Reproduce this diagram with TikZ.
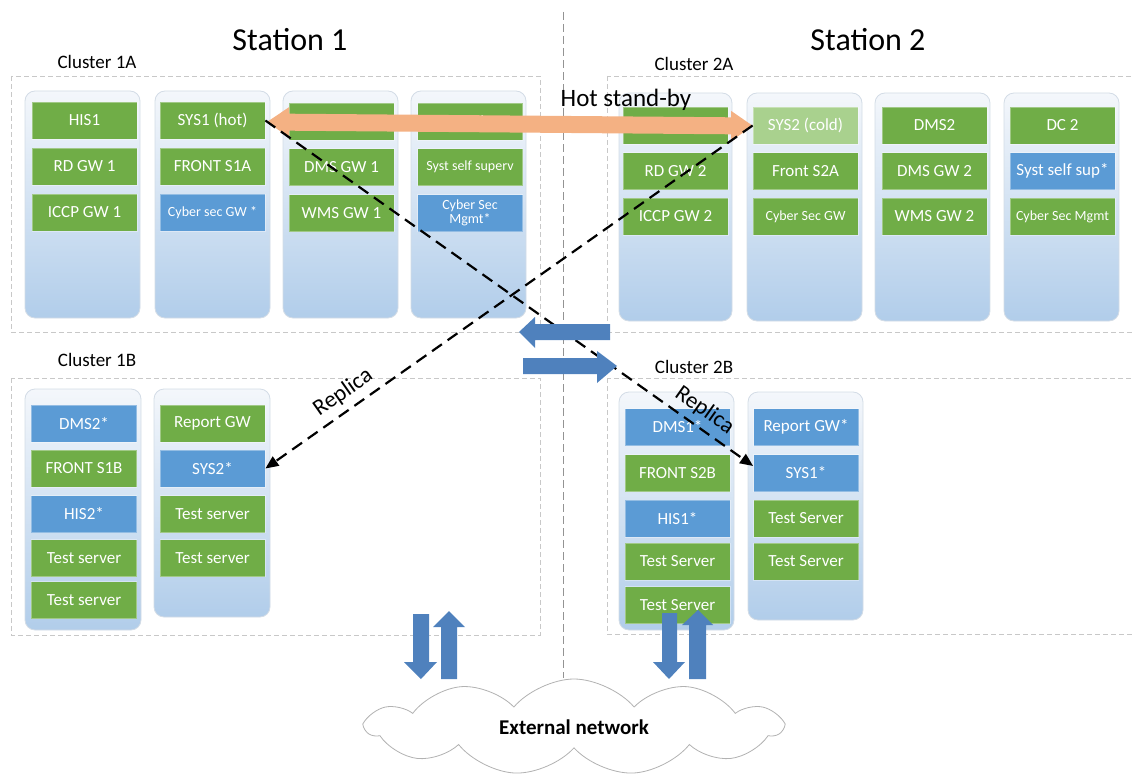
\documentclass[tikz,border=0pt]{standalone}
\usepackage{fontspec}
\setmainfont{Carlito}
\usetikzlibrary{shapes.symbols,arrows.meta}
\definecolor{srvgreen}{HTML}{70AD47}
\definecolor{srvblue}{HTML}{5B9BD5}
\definecolor{srvlight}{HTML}{A9D18E}
\definecolor{hotarrow}{HTML}{F4B183}
\definecolor{linkblue}{HTML}{4F81BD}
\definecolor{framegray}{HTML}{C8C8C8}
\definecolor{colborder}{HTML}{D3DCE6}
\definecolor{coltop}{HTML}{F4F7FB}
\definecolor{colmid}{HTML}{DDE8F4}
\definecolor{colbot}{HTML}{B1CDEA}
\newcommand{\fsz}[1]{\fontsize{#1bp}{#1bp}\selectfont}
\begin{document}
\begin{tikzpicture}[x=1bp,y=-1bp,
  clusterframe/.style={draw=framegray, line width=0.8bp, dash pattern=on 5bp off 3bp},
  rack/.style={draw=colborder, line width=0.8bp, rounded corners=10bp,
    top color=coltop, middle color=colmid, bottom color=colbot},
  srv/.style={minimum width=105bp, minimum height=37bp, inner sep=1bp,
    text=white, align=center, font=\fsz{17}, draw=white, draw opacity=0.35, line width=0.8bp},
  gsrv/.style={srv, fill=srvgreen},
  bsrv/.style={srv, fill=srvblue},
  lsrv/.style={srv, fill=srvlight},
  small/.style={font=\fsz{14}},
  title/.style={font=\fsz{32}, text=black},
  clabel/.style={font=\fsz{19}, text=black},
  replica/.style={draw=black, line width=2.2bp, dash pattern=on 12bp off 7bp,
    -{Triangle[length=13bp,width=11bp]}},
  replabel/.style={font=\fsz{23}, sloped, above=3bp, text=black},
  blockarrow/.style={fill=linkblue, draw=none},
]
\useasboundingbox (0,0) rectangle (1134,776);

% station divider
\draw[gray!85, line width=0.9bp, dash pattern=on 8bp off 4bp] (563,12) -- (563,678);

% titles
\node[title] (st1) at (290,40) {Station 1};
\node[title] (st2) at (868,40) {Station 2};

% cluster frames and labels
\draw[clusterframe] (11,76) rectangle (540,332);
\draw[clusterframe] (607,76) rectangle (1145,332);
\draw[clusterframe] (11,378) rectangle (540,635);
\draw[clusterframe] (607,378) rectangle (1145,634);
\node[clabel] (cl1a) at (97,62) {Cluster 1A};
\node[clabel] (cl2a) at (694,64) {Cluster 2A};
\node[clabel] (cl1b) at (97,360) {Cluster 1B};
\node[clabel] (cl2b) at (694,367) {Cluster 2B};

% racks
\draw[rack] (25,91) rectangle (140,318);
\draw[rack] (155,91) rectangle (270,318);
\draw[rack] (283,91) rectangle (398,318);
\draw[rack] (411,91) rectangle (526,318);
\draw[rack] (619,93) rectangle (732,321);
\draw[rack] (747,93) rectangle (862,321);
\draw[rack] (875,93) rectangle (990,321);
\draw[rack] (1004,93) rectangle (1119,321);
\draw[rack] (25,389) rectangle (141,630);
\draw[rack] (154,389) rectangle (270,617);
\draw[rack] (619,392) rectangle (734,630);
\draw[rack] (748,392) rectangle (863,620);

% cluster 1A servers
\node[gsrv] (his1) at (84.5,120.5) {HIS1};
\node[gsrv] (rdgw1) at (84.5,166.5) {RD GW 1};
\node[gsrv] (iccpgw1) at (84.5,212.5) {ICCP GW 1};
\node[gsrv] (sys1) at (212.5,120.5) {SYS1 (hot)};
\node[gsrv] (fronts1a) at (212.5,166.5) {FRONT S1A};
\node[bsrv,small] (cybgw1) at (212.5,212.5) {Cyber sec GW *};
\node[gsrv] (dms1) at (341.5,121.5) {DMS1};
\node[gsrv] (dmsgw1) at (341.5,167) {DMS GW 1};
\node[gsrv] (wmsgw1) at (341.5,213) {WMS GW 1};
\node[gsrv] (dc1) at (470,121.5) {DC 1};
\node[gsrv,small] (selfsup1) at (470,167) {Syst self superv};
\node[bsrv,small] (cybmgmt1) at (470,213) {Cyber Sec\\Mgmt*};

% cluster 2A servers
\node[gsrv] (top2a) at (675.5,125.5) {};
\node[gsrv] (rdgw2) at (675.5,171) {RD GW 2};
\node[gsrv] (iccpgw2) at (675.5,216.5) {ICCP GW 2};
\node[lsrv] (sys2) at (805.5,125.5) {SYS2 (cold)};
\node[gsrv] (fronts2a) at (805.5,171) {Front S2A};
\node[gsrv,small] (cybgw2) at (805.5,216.5) {Cyber Sec GW};
\node[gsrv] (dms2) at (934.5,125.5) {DMS2};
\node[gsrv] (dmsgw2) at (934.5,171) {DMS GW 2};
\node[gsrv] (wmsgw2) at (934.5,216.5) {WMS GW 2};
\node[gsrv] (dc2) at (1062.5,125.5) {DC 2};
\node[bsrv] (selfsup2) at (1062.5,171) {Syst self sup*};
\node[gsrv,small] (cybmgmt2) at (1062.5,216.5) {Cyber Sec Mgmt};

% cluster 1B servers
\node[bsrv] (dms2r) at (84,423.5) {DMS2*};
\node[gsrv] (fronts1b) at (84,468.5) {FRONT S1B};
\node[bsrv] (his2r) at (84,514) {HIS2*};
\node[gsrv] (test1ba) at (84,558) {Test server};
\node[gsrv] (test1bb) at (84,600) {Test server};
\node[gsrv] (repgw1) at (212.5,423.5) {Report GW};
\node[bsrv] (sys2r) at (212.5,468.5) {SYS2*};
\node[gsrv] (test1bc) at (212.5,514) {Test server};
\node[gsrv] (test1bd) at (212.5,558) {Test server};

% cluster 2B servers
\node[bsrv] (dms1r) at (677.5,427) {DMS1*};
\node[gsrv] (fronts2b) at (677.5,473) {FRONT S2B};
\node[bsrv] (his1r) at (677.5,518.5) {HIS1*};
\node[gsrv] (test2ba) at (677.5,561.5) {Test Server};
\node[gsrv] (test2bb) at (677.5,605) {Test Server};
\node[bsrv] (repgw2) at (806,427) {Report GW*};
\node[bsrv] (sys1r) at (806,473) {SYS1*};
\node[gsrv] (test2bc) at (806,518.5) {Test Server};
\node[gsrv] (test2bd) at (806,561.5) {Test Server};

% hot stand-by link between SYS1 and SYS2
\fill[hotarrow] (267,122) -- (289,107.2) -- (289,113.7) -- (731,117.3) -- (731,110.8)
  -- (753,126) -- (731,140.8) -- (731,134.3) -- (289,130.7) -- (289,137.2) -- cycle;
\node[font=\fsz{25}, anchor=base, text=black] (hsb) at (626,107) {Hot stand-by};

% replica links
\draw[replica] (sys1.east) -- ([yshift=7bp]sys1r.west)
  node[replabel, pos=0.88] (rep1) {Replica};
\draw[replica] (sys2.west) -- (sys2r.east)
  node[replabel, pos=0.82] (rep2) {Replica};

% inter-station links
\fill[blockarrow] (519,332) -- (535,317) -- (535,324) -- (610,324) -- (610,340)
  -- (535,340) -- (535,348) -- cycle;
\fill[blockarrow] (617,366) -- (597,351) -- (597,358) -- (523,358) -- (523,374)
  -- (597,374) -- (597,383) -- cycle;

% links to the external network
\fill[blockarrow] (421,679) -- (404,662) -- (413,662) -- (413,614) -- (429,614)
  -- (429,662) -- (437,662) -- cycle;
\fill[blockarrow] (449,611) -- (433,627) -- (441,627) -- (441,679) -- (457,679)
  -- (457,627) -- (465,627) -- cycle;
\fill[blockarrow] (669,679) -- (653,662) -- (662,662) -- (662,613) -- (677,613)
  -- (677,662) -- (685,662) -- cycle;
\fill[blockarrow] (698,610) -- (682,625) -- (689,625) -- (689,679) -- (706,679)
  -- (706,625) -- (713,625) -- cycle;

% external network
\node[cloud, cloud puffs=11, cloud puff arc=100, cloud ignores aspect,
  minimum width=415bp, minimum height=96bp, draw=gray!60, fill=white,
  line width=0.8bp, font=\bfseries\fsz{21}] (ext) at (574,727) {External network};
\end{tikzpicture}
\end{document}
